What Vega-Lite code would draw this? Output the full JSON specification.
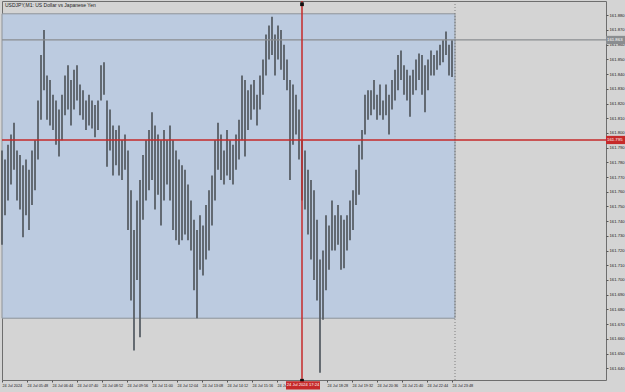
{
  "$schema": "https://vega.github.io/schema/vega-lite/v6.json",
  "width": 604,
  "height": 379,
  "autosize": {"type": "none"},
  "padding": {"left": 2, "top": 1, "right": 19, "bottom": 12},
  "background": "#d4d4d4",
  "config": {
    "view": {"fill": "#d4d4d4", "stroke": "#6e6e6e", "strokeWidth": 1},
    "font": "Liberation Sans",
    "axis": {"labelOverlap": false, "labelFlush": false, "labelBound": false, "grid": false, "domain": false, "labelFont": "Liberation Sans", "labelFontSize": 4.2, "labelColor": "#222222", "tickColor": "#555555", "tickSize": 2, "labelPadding": 1}
  },
  "datasets": {
    "bars": [
      {"b":0,"h":161.788,"l":161.724},{"b":3,"h":161.782,"l":161.744},{"b":6,"h":161.792,"l":161.754},{"b":9,"h":161.799,"l":161.765},
      {"b":12,"h":161.807,"l":161.775},{"b":15,"h":161.788,"l":161.754},{"b":18,"h":161.785,"l":161.748},{"b":21,"h":161.778,"l":161.729},
      {"b":24,"h":161.782,"l":161.744},{"b":27,"h":161.775,"l":161.734},{"b":30,"h":161.788,"l":161.751},{"b":33,"h":161.795,"l":161.761},
      {"b":36,"h":161.822,"l":161.782},{"b":39,"h":161.853,"l":161.809},{"b":42,"h":161.870,"l":161.829},{"b":45,"h":161.839,"l":161.809},
      {"b":48,"h":161.836,"l":161.805},{"b":51,"h":161.826,"l":161.802},{"b":54,"h":161.822,"l":161.792},{"b":57,"h":161.816,"l":161.784},
      {"b":60,"h":161.826,"l":161.795},{"b":63,"h":161.839,"l":161.812},{"b":66,"h":161.846,"l":161.816},{"b":69,"h":161.836,"l":161.805},
      {"b":72,"h":161.843,"l":161.816},{"b":75,"h":161.846,"l":161.822},{"b":78,"h":161.833,"l":161.812},{"b":81,"h":161.829,"l":161.809},
      {"b":84,"h":161.822,"l":161.802},{"b":87,"h":161.826,"l":161.805},{"b":90,"h":161.822,"l":161.803},{"b":93,"h":161.819,"l":161.797},
      {"b":96,"h":161.822,"l":161.802},{"b":99,"h":161.846,"l":161.822},{"b":102,"h":161.848,"l":161.826},{"b":105,"h":161.822,"l":161.777},
      {"b":108,"h":161.816,"l":161.788},{"b":111,"h":161.805,"l":161.771},{"b":114,"h":161.802,"l":161.778},{"b":117,"h":161.805,"l":161.771},
      {"b":120,"h":161.795,"l":161.768},{"b":123,"h":161.799,"l":161.775},{"b":126,"h":161.788,"l":161.734},{"b":129,"h":161.761,"l":161.686},
      {"b":132,"h":161.734,"l":161.652},{"b":135,"h":161.754,"l":161.700},{"b":138,"h":161.768,"l":161.661},{"b":141,"h":161.785,"l":161.741},
      {"b":144,"h":161.795,"l":161.754},{"b":147,"h":161.802,"l":161.761},{"b":150,"h":161.814,"l":161.768},{"b":153,"h":161.805,"l":161.748},
      {"b":156,"h":161.799,"l":161.758},{"b":159,"h":161.795,"l":161.737},{"b":162,"h":161.802,"l":161.754},{"b":165,"h":161.795,"l":161.765},
      {"b":168,"h":161.805,"l":161.754},{"b":171,"h":161.795,"l":161.734},{"b":174,"h":161.788,"l":161.727},{"b":177,"h":161.782,"l":161.724},
      {"b":180,"h":161.778,"l":161.727},{"b":183,"h":161.775,"l":161.731},{"b":186,"h":161.765,"l":161.727},{"b":189,"h":161.754,"l":161.720},
      {"b":192,"h":161.741,"l":161.693},{"b":195,"h":161.734,"l":161.674},{"b":198,"h":161.744,"l":161.707},{"b":201,"h":161.737,"l":161.703},
      {"b":204,"h":161.751,"l":161.714},{"b":207,"h":161.761,"l":161.720},{"b":210,"h":161.771,"l":161.737},{"b":213,"h":161.795,"l":161.754},
      {"b":216,"h":161.807,"l":161.775},{"b":219,"h":161.799,"l":161.768},{"b":222,"h":161.788,"l":161.765},{"b":225,"h":161.802,"l":161.771},
      {"b":228,"h":161.795,"l":161.768},{"b":231,"h":161.792,"l":161.765},{"b":234,"h":161.799,"l":161.775},{"b":237,"h":161.809,"l":161.782},
      {"b":240,"h":161.839,"l":161.795},{"b":243,"h":161.836,"l":161.784},{"b":246,"h":161.829,"l":161.802},{"b":249,"h":161.833,"l":161.809},
      {"b":252,"h":161.836,"l":161.816},{"b":255,"h":161.826,"l":161.805},{"b":258,"h":161.839,"l":161.816},{"b":261,"h":161.850,"l":161.826},
      {"b":264,"h":161.867,"l":161.839},{"b":267,"h":161.873,"l":161.850},{"b":270,"h":161.879,"l":161.853},{"b":273,"h":161.867,"l":161.839},
      {"b":276,"h":161.873,"l":161.850},{"b":279,"h":161.870,"l":161.843},{"b":282,"h":161.860,"l":161.836},{"b":285,"h":161.850,"l":161.829},
      {"b":288,"h":161.836,"l":161.768},{"b":291,"h":161.833,"l":161.792},{"b":294,"h":161.826,"l":161.799},{"b":297,"h":161.816,"l":161.782},
      {"b":300,"h":161.795,"l":161.754},{"b":303,"h":161.788,"l":161.748},{"b":306,"h":161.775,"l":161.731},{"b":309,"h":161.768,"l":161.714},
      {"b":312,"h":161.761,"l":161.700},{"b":315,"h":161.741,"l":161.686},{"b":318,"h":161.714,"l":161.637},{"b":321,"h":161.720,"l":161.673},
      {"b":324,"h":161.744,"l":161.693},{"b":327,"h":161.737,"l":161.707},{"b":330,"h":161.754,"l":161.720},{"b":333,"h":161.744,"l":161.720},
      {"b":336,"h":161.751,"l":161.724},{"b":339,"h":161.744,"l":161.707},{"b":342,"h":161.741,"l":161.708},{"b":345,"h":161.744,"l":161.720},
      {"b":348,"h":161.754,"l":161.727},{"b":351,"h":161.761,"l":161.734},{"b":354,"h":161.775,"l":161.751},{"b":357,"h":161.792,"l":161.758},
      {"b":360,"h":161.802,"l":161.782},{"b":363,"h":161.826,"l":161.799},{"b":366,"h":161.829,"l":161.809},{"b":369,"h":161.829,"l":161.812},
      {"b":372,"h":161.836,"l":161.816},{"b":375,"h":161.826,"l":161.809},{"b":378,"h":161.833,"l":161.812},{"b":381,"h":161.822,"l":161.809},
      {"b":384,"h":161.833,"l":161.812},{"b":387,"h":161.826,"l":161.799},{"b":390,"h":161.836,"l":161.816},{"b":393,"h":161.843,"l":161.822},
      {"b":396,"h":161.853,"l":161.829},{"b":399,"h":161.856,"l":161.836},{"b":402,"h":161.846,"l":161.826},{"b":405,"h":161.843,"l":161.822},
      {"b":408,"h":161.839,"l":161.811},{"b":411,"h":161.843,"l":161.826},{"b":414,"h":161.850,"l":161.829},{"b":417,"h":161.854,"l":161.836},
      {"b":420,"h":161.853,"l":161.826},{"b":423,"h":161.846,"l":161.814},{"b":426,"h":161.850,"l":161.829},{"b":429,"h":161.856,"l":161.839},
      {"b":432,"h":161.853,"l":161.839},{"b":435,"h":161.856,"l":161.843},{"b":438,"h":161.860,"l":161.846},{"b":441,"h":161.863,"l":161.848},
      {"b":444,"h":161.869,"l":161.853},{"b":447,"h":161.860,"l":161.839},{"b":450,"h":161.863,"l":161.838}
    ]
  },
  "encoding": {
    "x": {
      "field": "b", "type": "quantitative",
      "scale": {"domain": [0, 604], "nice": false, "zero": false},
      "axis": {
        "title": null, "orient": "bottom",
        "values": [0,25,50,75,100,125,150,175,200,225,250,275,300,325,350,375,400,425,450],
        "labelExpr": "['24 Jul 2024','24 Jul 05:48','24 Jul 06:44','24 Jul 07:40','24 Jul 08:52','24 Jul 09:56','24 Jul 11:00','24 Jul 12:04','24 Jul 13:08','24 Jul 14:12','24 Jul 15:16','24 Jul 16:20','','24 Jul 18:28','24 Jul 19:32','24 Jul 20:36','24 Jul 21:40','24 Jul 22:44','24 Jul 23:48'][round(datum.value/25)]",
        "labelAlign": "left", "labelFontSize": 3.8
      }
    },
    "y": {
      "field": "h", "type": "quantitative",
      "scale": {"domain": [161.632, 161.8897], "nice": false, "zero": false},
      "axis": {
        "title": null, "orient": "right",
        "values": [161.64,161.65,161.66,161.67,161.68,161.69,161.70,161.71,161.72,161.73,161.74,161.75,161.76,161.77,161.78,161.79,161.80,161.81,161.82,161.83,161.84,161.85,161.86,161.87,161.88],
        "format": ".3f"
      }
    }
  },
  "layer": [
    {
      "data": {"values": [{"b": 0, "b2": 453, "h": 161.881, "l": 161.674}]},
      "mark": {"type": "rect", "fill": "#bccbe0", "stroke": "#8e949a", "strokeWidth": 1},
      "encoding": {"x2": {"field": "b2"}, "y2": {"field": "l"}}
    },
    {
      "data": {"values": [{"b": 453, "h": 161.8897, "l": 161.632}]},
      "mark": {"type": "rule", "color": "#6a6a6a", "strokeWidth": 0.8, "strokeDash": [1, 2]},
      "encoding": {"y2": {"field": "l"}}
    },
    {
      "data": {"name": "bars"},
      "mark": {"type": "rule", "color": "#585f66", "strokeWidth": 1.8},
      "encoding": {"y2": {"field": "l"}}
    },
    {
      "data": {"values": [{"b": 0, "b2": 604, "h": 161.8632, "c": "bid"}, {"b": 0, "b2": 604, "h": 161.7952, "c": "cross"}]},
      "mark": {"type": "rule", "strokeWidth": 1.3},
      "encoding": {
        "x2": {"field": "b2"},
        "color": {"field": "c", "type": "nominal", "scale": {"domain": ["bid", "cross"], "range": ["#8a8d90", "#c62a2a"]}, "legend": null}
      }
    },
    {
      "data": {"values": [{"b": 300, "h": 161.8897, "l": 161.6305}]},
      "mark": {"type": "rule", "color": "#c62a2a", "strokeWidth": 1.5, "clip": false},
      "encoding": {"y2": {"field": "l"}}
    },
    {
      "data": {"values": [{"b": 300, "h": 161.8875}, {"b": 300, "h": 161.6315}]},
      "mark": {"type": "square", "color": "#111111", "size": 14, "opacity": 1}
    },
    {
      "data": {"values": [
        {"b": 604, "b2": 623, "h": 161.866, "l": 161.8604, "c": "bid"},
        {"b": 604, "b2": 623, "h": 161.798, "l": 161.7924, "c": "cross"},
        {"b": 284, "b2": 318, "h": 161.6312, "l": 161.6255, "c": "cross"}
      ]},
      "mark": {"type": "rect", "clip": false},
      "encoding": {
        "x2": {"field": "b2"},
        "y2": {"field": "l"},
        "color": {"field": "c", "type": "nominal", "legend": null}
      }
    },
    {
      "data": {"values": [
        {"b": 605, "h": 161.8632, "t": "161.863"},
        {"b": 605, "h": 161.7952, "t": "161.795"}
      ]},
      "mark": {"type": "text", "align": "left", "baseline": "middle", "fontSize": 4.3, "color": "#ffffff", "clip": false},
      "encoding": {"text": {"field": "t"}}
    },
    {
      "data": {"values": [{"b": 301, "h": 161.6284, "t": "24 Jul 2024 17:24"}]},
      "mark": {"type": "text", "align": "center", "baseline": "middle", "fontSize": 4.1, "color": "#ffffff", "clip": false},
      "encoding": {"text": {"field": "t"}}
    },
    {
      "data": {"values": [{"b": 0, "h": 161.8897, "t": "USDJPY,M1:  US Dollar vs Japanese Yen"}]},
      "mark": {"type": "text", "align": "left", "baseline": "top", "fontSize": 5, "color": "#222222", "dx": 3, "dy": 2},
      "encoding": {"text": {"field": "t"}}
    }
  ]
}
